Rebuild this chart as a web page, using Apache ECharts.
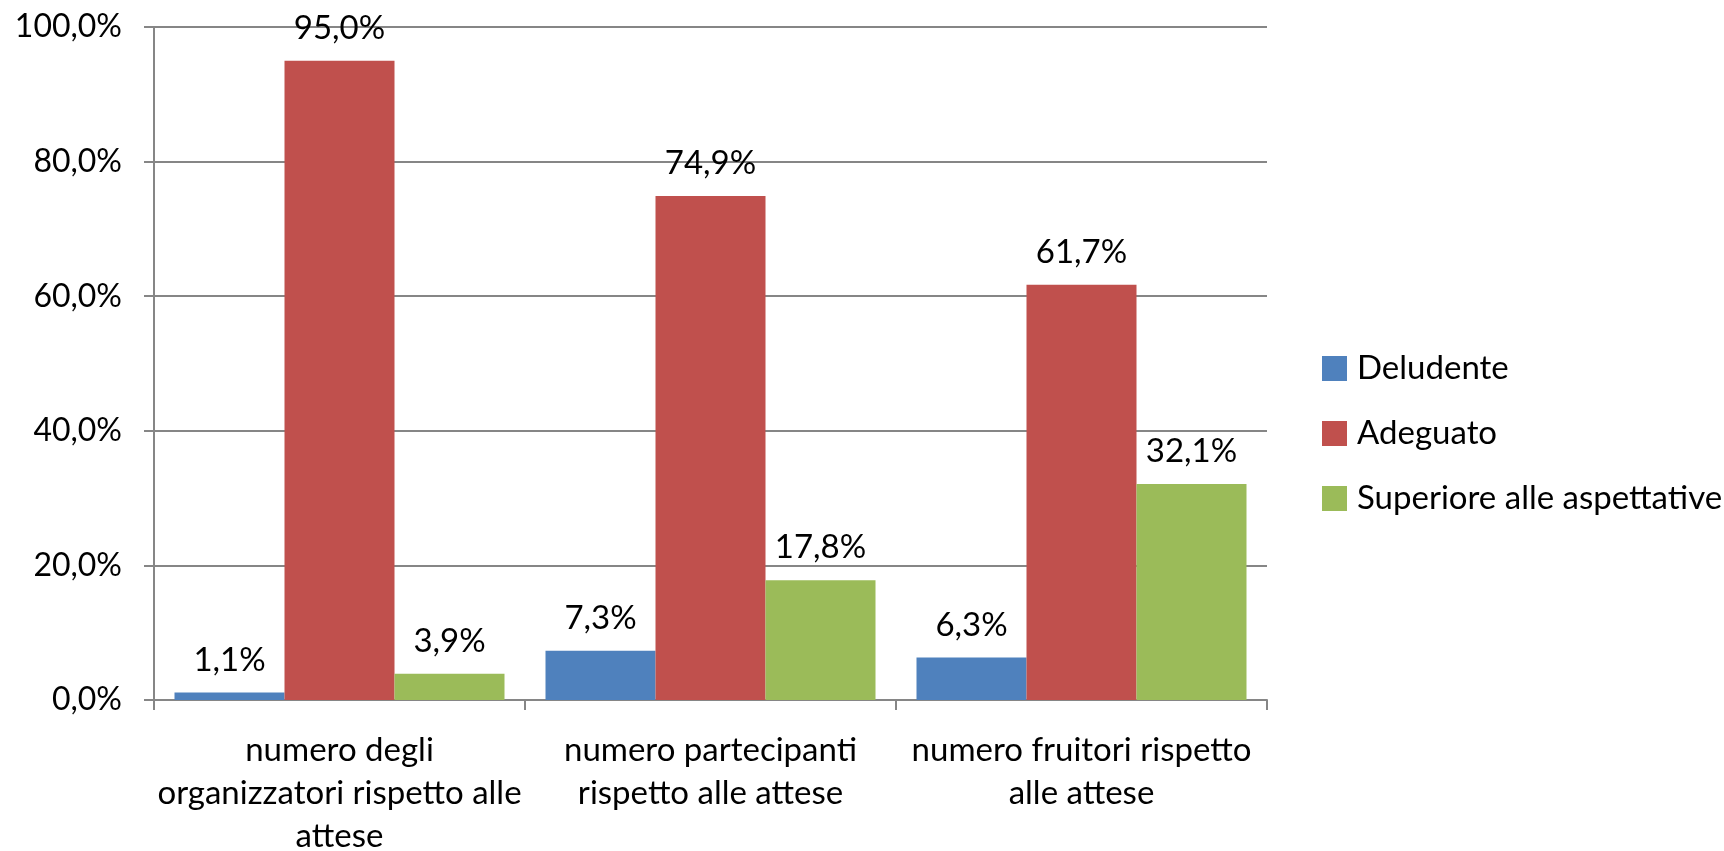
<!DOCTYPE html>
<html>
<head>
<meta charset="utf-8">
<script src="https://cdn.jsdelivr.net/npm/echarts@6/dist/echarts.min.js"></script>
<style>
  html, body { margin: 0; padding: 0; background: #fff; }
  #chart { width: 1724px; height: 851px; }
</style>
</head>
<body>
<div id="chart"></div>
<script>
var categories = [
  'numero degli\norganizzatori rispetto alle\nattese',
  'numero partecipanti\nrispetto alle attese',
  'numero fruitori rispetto\nalle attese'
];
var seriesNames = ['Deludente', 'Adeguato', 'Superiore alle aspettative'];
var deludente = [1.1, 7.3, 6.3];
var adeguato = [95.0, 74.9, 61.7];
var superiore = [3.9, 17.8, 32.1];
var colors = ['#4F81BD', '#C0504D', '#9BBB59'];

(function(){
  var chartDom = document.getElementById('chart');
  var myChart = echarts.init(chartDom);
  var font = 'Lato';

  // etichetta con la virgola decimale
  function pct(v) {
    return v.toFixed(1).replace('.', ',') + '%';
  }

  function makeSeries(name, data, color) {
    return {
      name: name,
      type: 'bar',
      data: data,
      barWidth: 110,
      barGap: '0%',
      itemStyle: { color: color },
      label: {
        show: true,
        position: 'top',
        distance: 16,
        color: '#000',
        fontFamily: font,
        fontSize: 33,
        formatter: function(p) { return pct(p.value); }
      }
    };
  }

  var option = {
    animation: false,
    color: colors,
    grid: {
      left: 154,
      right: 457,
      top: 27,
      bottom: 151,
      outerBoundsMode: 'none'
    },
    legend: {
      orient: 'vertical',
      left: 1322,
      top: 352,
      padding: 0,
      itemWidth: 25,
      itemHeight: 25,
      itemGap: 32,
      icon: 'rect',
      data: seriesNames,
      textStyle: {
        color: '#000',
        fontFamily: font,
        fontSize: 33,
        padding: [0, 0, 0, 5]
      }
    },
    xAxis: {
      type: 'category',
      data: categories,
      axisLine: { lineStyle: { color: '#868686', width: 2 } },
      axisTick: { show: true, length: 10, lineStyle: { color: '#868686', width: 2 } },
      axisLabel: {
        color: '#000',
        fontFamily: font,
        fontSize: 33,
        lineHeight: 43,
        margin: 29,
        interval: 0
      }
    },
    yAxis: {
      type: 'value',
      min: 0,
      max: 100,
      interval: 20,
      axisLine: { show: true, lineStyle: { color: '#868686', width: 2 } },
      axisTick: { show: true, length: 10, lineStyle: { color: '#868686', width: 2 } },
      splitLine: { lineStyle: { color: '#868686', width: 2 } },
      axisLabel: {
        color: '#000',
        fontFamily: font,
        fontSize: 32,
        margin: 32,
        formatter: function(v) { return pct(v); }
      }
    },
    series: [
      makeSeries(seriesNames[0], deludente, colors[0]),
      makeSeries(seriesNames[1], adeguato, colors[1]),
      makeSeries(seriesNames[2], superiore, colors[2])
    ]
  };

  option && myChart.setOption(option);
})();
</script>
</body>
</html>
